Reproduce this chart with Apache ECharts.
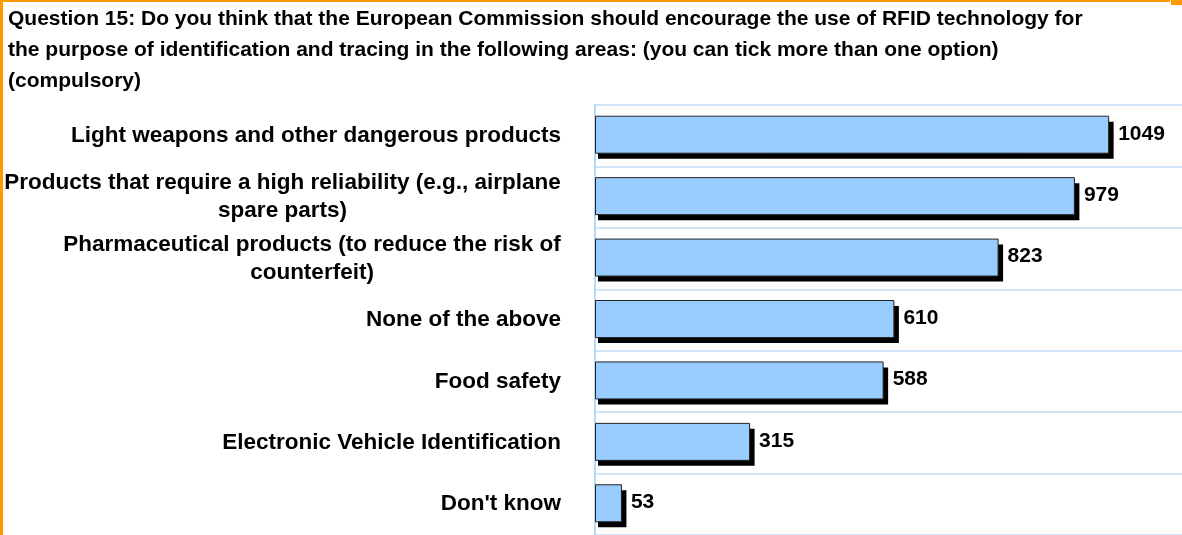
<!DOCTYPE html>
<html>
<head>
<meta charset="utf-8">
<script src="https://cdn.jsdelivr.net/npm/echarts@6/dist/echarts.min.js"></script>
<style>
  html, body { margin: 0; padding: 0; background: #fff; }
  #chart { width: 1182px; height: 535px; }
</style>
</head>
<body>
<div id="chart"></div>
<script>
// 数据
var categories = [
    'Light weapons and other dangerous products',
    'Products that require a high reliability (e.g., airplane\nspare parts)',
    'Pharmaceutical products (to reduce the risk of\ncounterfeit)',
    'None of the above',
    'Food safety',
    'Electronic Vehicle Identification',
    "Don't know"
];
var values = [1049, 979, 823, 610, 588, 315, 53];

var titleText = 'Question 15: Do you think that the European Commission should encourage the use of RFID technology for\n' +
    'the purpose of identification and tracing in the following areas: (you can tick more than one option)\n' +
    '(compulsory)';

var FONT = '"Liberation Sans", Arial, sans-serif';
var labelSize = 22.5;
var valueSize = 21;

// 测量文字宽度,用于两行标签居中
var ctx = document.createElement('canvas').getContext('2d');
ctx.font = 'bold ' + labelSize + 'px ' + FONT;
function textW(s) { return Math.ceil(ctx.measureText(s).width); }

var rich = {};
var labelKeys = {};
categories.forEach(function (c, i) {
    var lines = c.split('\n');
    if (lines.length > 1) {
        var w = 0;
        lines.forEach(function (l) { w = Math.max(w, textW(l)); });
        rich['m' + i] = {
            width: w, align: 'center', fontSize: labelSize, fontWeight: 'bold',
            fontFamily: FONT, color: '#000', lineHeight: 28
        };
        labelKeys[c] = 'm' + i;
    }
});

var barH = 37;

// 柱子 + 黑色阴影 + 数值
function renderBar(params, api) {
    var v = api.value(0);
    var start = api.coord([0, api.value(1)]);
    var end = api.coord([v, api.value(1)]);
    var y = start[1] - barH / 2 - 1.5;
    var w = end[0] - start[0];
    return {
        type: 'group',
        children: [{
            type: 'rect',
            shape: {x: start[0] + 3, y: y + 6, width: w + 2.5, height: barH},
            style: {fill: '#000'}
        }, {
            type: 'rect',
            shape: {x: start[0] + 0.5, y: y + 0.5, width: w, height: barH},
            style: {fill: '#99ccff', stroke: '#222', lineWidth: 1}
        }, {
            type: 'text',
            style: {
                text: String(v),
                x: end[0] + 10,
                y: start[1] - 2,
                align: 'left',
                verticalAlign: 'middle',
                font: 'bold ' + valueSize + 'px ' + FONT,
                fill: '#000'
            }
        }]
    };
}

var myChart = echarts.init(document.getElementById('chart'));

var option = {
    animation: false,
    title: {
        text: titleText,
        left: 8,
        top: 4,
        padding: 0,
        textStyle: {
            fontFamily: FONT,
            fontSize: 21,
            fontWeight: 'bold',
            color: '#000',
            lineHeight: 31
        }
    },
    grid: {
        left: 595,
        top: 105,
        width: 595,
        height: 434,
        containLabel: false
    },
    xAxis: {
        type: 'value',
        min: 0,
        max: 1200,
        axisLabel: {show: false},
        axisTick: {show: false},
        axisLine: {show: false},
        splitLine: {show: false}
    },
    yAxis: {
        type: 'category',
        inverse: true,
        data: categories,
        axisTick: {show: false},
        axisLine: {show: true, lineStyle: {color: '#b8d8f8', width: 2}},
        splitLine: {show: true, lineStyle: {color: '#c0dcf8', width: 1.5}},
        axisLabel: {
            margin: 34,
            fontFamily: FONT,
            fontSize: labelSize,
            fontWeight: 'bold',
            color: '#000',
            lineHeight: 28,
            rich: rich,
            formatter: function (v) {
                var k = labelKeys[v];
                if (!k) return v;
                return v.split('\n').map(function (l) {
                    return '{' + k + '|' + l + '}';
                }).join('\n');
            }
        }
    },
    series: [{
        type: 'custom',
        renderItem: renderBar,
        encode: {x: 0, y: 1},
        data: values.map(function (v, i) { return [v, i]; })
    }],
    graphic: [
        {type: 'rect', shape: {x: 0, y: 0, width: 1170, height: 2}, style: {fill: '#ff9900'}},
        {type: 'rect', shape: {x: 1171, y: 0, width: 11, height: 5}, style: {fill: '#ff9900'}},
        {type: 'rect', shape: {x: 0, y: 0, width: 3, height: 535}, style: {fill: '#ff9900'}}
    ]
};

myChart.setOption(option);
window.onresize = myChart.resize;
</script>
</body>
</html>
